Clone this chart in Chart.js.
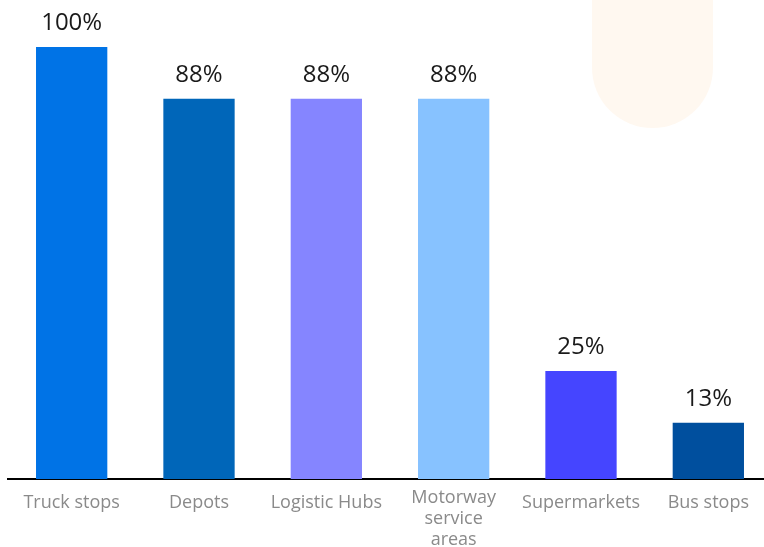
<!DOCTYPE html>
<html>
<head>
<meta charset="utf-8">
<script src="https://cdn.jsdelivr.net/npm/chart.js@4.4.1/dist/chart.umd.min.js"></script>
<style>
  html, body { margin: 0; padding: 0; background: #ffffff; overflow: hidden; }
  #wrap { position: relative; width: 772px; height: 547px; }
  #blob {
    position: absolute; left: 592px; top: -10px; width: 121px; height: 138px;
    background: #fff8f0; border-radius: 0 0 60.5px 60.5px;
  }
  canvas { position: absolute; left: 0; top: 0; }
</style>
</head>
<body>
<div id="wrap">
  <div id="blob"></div>
  <canvas id="chart" width="772" height="547"></canvas>
</div>
<script>
// Share of sites by location type
const categories = ['Truck stops', 'Depots', 'Logistic Hubs', ['Motorway', 'service', 'areas'], 'Supermarkets', 'Bus stops'];
const shares = [100, 88, 88, 88, 25, 13];
const barColors = ['#0073e6', '#0066b9', '#8585ff', '#87c2ff', '#4545ff', '#004f9e'];

// Writes the percentage above each bar
const valueLabels = {
  id: 'valueLabels',
  afterDatasetsDraw(chart) {
    const ctx = chart.ctx;
    const meta = chart.getDatasetMeta(0);
    ctx.save();
    ctx.fillStyle = '#1a1a1a';
    ctx.font = '400 24px "Open Sans"';
    ctx.textAlign = 'center';
    ctx.textBaseline = 'bottom';
    meta.data.forEach((bar, i) => {
      ctx.fillText(shares[i] + '%', bar.x, bar.y - 12);
    });
    ctx.restore();
  }
};

new Chart(document.getElementById('chart'), {
  type: 'bar',
  data: {
    labels: categories,
    datasets: [{
      data: shares,
      backgroundColor: barColors,
      borderWidth: 0,
      barPercentage: 0.56,
      categoryPercentage: 1.0
    }]
  },
  options: {
    responsive: false,
    animation: false,
    layout: { padding: { top: 47, left: 8, right: 0, bottom: 0 } },
    plugins: { legend: { display: false }, tooltip: { enabled: false } },
    scales: {
      x: {
        grid: { display: false, drawTicks: false },
        border: { display: true, color: '#000000', width: 2 },
        ticks: {
          color: '#8a8a8a',
          // single-line labels sit a little lower than the first line of a wrapped one
          font: (ctx) => ({
            family: '"Open Sans"',
            size: 18,
            lineHeight: Array.isArray(categories[ctx.index]) ? '21px' : '31px'
          }),
          padding: 8,
          maxRotation: 0,
          autoSkip: false
        },
        afterFit(scale) { scale.height = 68; }
      },
      y: {
        display: false,
        min: 0,
        max: 100
      }
    }
  },
  plugins: [valueLabels]
});
</script>
</body>
</html>
